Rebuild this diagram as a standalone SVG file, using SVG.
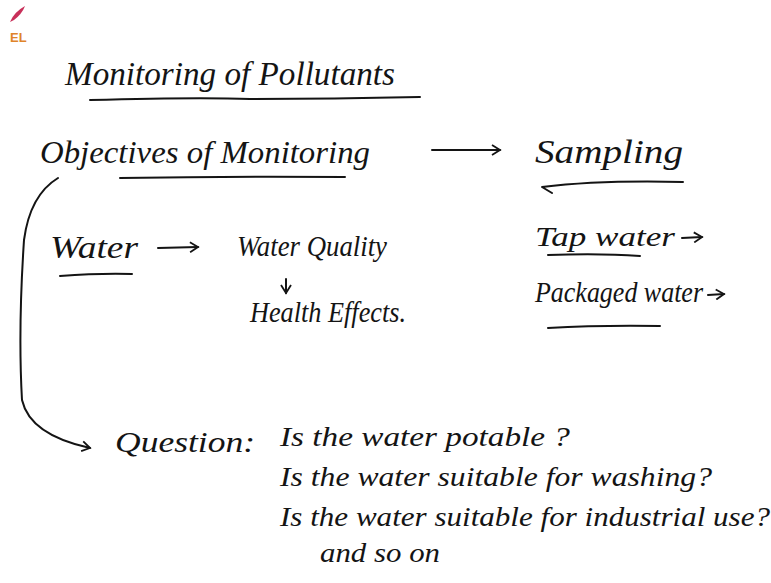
<svg xmlns="http://www.w3.org/2000/svg" width="771" height="583" viewBox="0 0 771 583">
<defs>
<style>
.t{font-family:"Liberation Serif","DejaVu Serif",serif;font-style:italic;fill:#141414;}
.ln{fill:none;stroke:#141414;stroke-width:2;stroke-linecap:round;stroke-linejoin:round;}
</style>
<marker id="ah" viewBox="0 0 12 12" refX="10" refY="6" markerWidth="12" markerHeight="12" markerUnits="userSpaceOnUse" orient="auto">
<path d="M2,1 L10,6 L2,11" fill="none" stroke="#141414" stroke-width="1.8"/>
</marker>
</defs>
<rect width="771" height="583" fill="#ffffff"/>
<g id="logo">
<path d="M10,22 Q14,12 25,6 Q22,14 14,20 Z" fill="#c8305a"/>
<text x="10" y="42" font-family="Liberation Sans, sans-serif" font-weight="bold" font-size="13" fill="#e0842a">EL</text>
</g>
<g id="title">
<text class="t" x="65" y="85" font-size="34" textLength="330" lengthAdjust="spacingAndGlyphs">Monitoring of Pollutants</text>
<path class="ln" d="M90,100 Q200,97 250,99 Q330,99 420,97"/>
</g>
<g id="objectives">
<text class="t" x="40" y="163" font-size="32" textLength="330" lengthAdjust="spacingAndGlyphs">Objectives of Monitoring</text>
<path class="ln" d="M120,178 Q230,176 345,177"/>
</g>
<g id="sampling">
<text class="t" x="535" y="163" font-size="34" textLength="148" lengthAdjust="spacingAndGlyphs">Sampling</text>
<path class="ln" d="M552,193 L542,187 Q600,180 683,182"/>
</g>
<g id="water">
<text class="t" x="50" y="258" font-size="32" textLength="88" lengthAdjust="spacingAndGlyphs">Water</text>
<path class="ln" d="M60,276 Q100,273 132,274"/>
</g>
<g id="waterquality">
<text class="t" x="237" y="256" font-size="29" textLength="150" lengthAdjust="spacingAndGlyphs">Water Quality</text>
</g>
<g id="healtheffects">
<text class="t" x="250" y="322" font-size="29" textLength="156" lengthAdjust="spacingAndGlyphs">Health Effects.</text>
</g>
<g id="tapwater">
<text class="t" x="535" y="246" font-size="28" textLength="140" lengthAdjust="spacingAndGlyphs">Tap water</text>
<path class="ln" d="M548,255 Q600,253 640,256"/>
<path class="ln" d="M682,238 L702,237" marker-end="url(#ah)"/>
</g>
<g id="packagedwater">
<text class="t" x="535" y="302" font-size="29" textLength="168" lengthAdjust="spacingAndGlyphs">Packaged water</text>
<path class="ln" d="M548,328 Q600,325 660,326"/>
<path class="ln" d="M708,295 L724,294" marker-end="url(#ah)"/>
</g>
<g id="question">
<text class="t" x="115" y="452" font-size="30" textLength="140" lengthAdjust="spacingAndGlyphs">Question:</text>
<text class="t" x="280" y="446" font-size="28" textLength="290" lengthAdjust="spacingAndGlyphs">Is the water potable ?</text>
<text class="t" x="280" y="486" font-size="28" textLength="432" lengthAdjust="spacingAndGlyphs">Is the water suitable for washing?</text>
<text class="t" x="280" y="526" font-size="28" textLength="490" lengthAdjust="spacingAndGlyphs">Is the water suitable for industrial use?</text>
<text class="t" x="320" y="562" font-size="28" textLength="120" lengthAdjust="spacingAndGlyphs">and so on</text>
</g>
<g id="connectors">
<path class="ln" d="M432,150 L500,150" marker-end="url(#ah)"/>
<path class="ln" d="M158,248 L198,247" marker-end="url(#ah)"/>
<path class="ln" d="M286,279 L286,293" marker-end="url(#ah)"/>
<path class="ln" d="M58,178 Q30,195 24,240 Q18,330 22,400 Q30,435 90,448" marker-end="url(#ah)"/>
</g>
</svg>
